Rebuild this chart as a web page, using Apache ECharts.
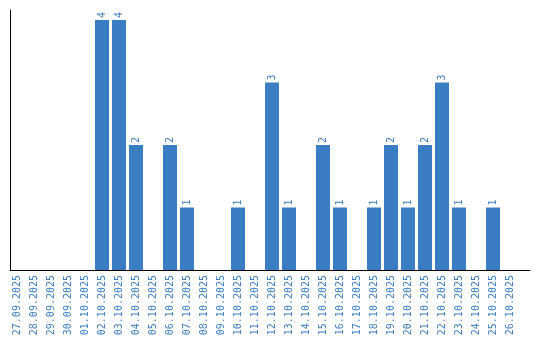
<!DOCTYPE html>
<html>
<head>
<meta charset="utf-8">
<script src="https://cdn.jsdelivr.net/npm/echarts@6/dist/echarts.min.js"></script>
<style>html,body{margin:0;padding:0;background:#fff}#c{width:540px;height:340px}</style>
</head>
<body>
<div id="c"></div>
<script>
const categories = ["27.09.2025","28.09.2025","29.09.2025","30.09.2025","01.10.2025","02.10.2025","03.10.2025","04.10.2025","05.10.2025","06.10.2025","07.10.2025","08.10.2025","09.10.2025","10.10.2025","11.10.2025","12.10.2025","13.10.2025","14.10.2025","15.10.2025","16.10.2025","17.10.2025","18.10.2025","19.10.2025","20.10.2025","21.10.2025","22.10.2025","23.10.2025","24.10.2025","25.10.2025","26.10.2025"];
const counts = [0,0,0,0,0,4,4,2,0,2,1,0,0,1,0,3,1,0,2,1,0,1,2,1,2,3,1,0,1,0];

const blue = '#3a7dc2';
const font = 'DejaVu Sans Mono';
const chart = echarts.init(document.getElementById('c'));
chart.setOption({
  animation: false,
  grid: [
    {left: 8.5, top: 10, width: 510, bottom: 70},
    {left: 10, top: 10, right: 10, bottom: 70}
  ],
  xAxis: [
    {
      type: 'category', data: categories, gridIndex: 0,
      axisLine: {show: false}, axisTick: {show: false},
      axisLabel: {rotate: 90, color: blue, fontFamily: font, fontSize: 10, margin: 5, interval: 0}
    },
    {
      type: 'value', gridIndex: 1, min: 0, max: 1,
      axisLine: {show: true, onZero: false, lineStyle: {color: '#000', width: 1}},
      axisTick: {show: false}, axisLabel: {show: false}, splitLine: {show: false}
    }
  ],
  yAxis: [
    {
      type: 'value', gridIndex: 0, min: 0, max: 4.16,
      axisLine: {show: false}, axisTick: {show: false}, axisLabel: {show: false}, splitLine: {show: false}
    },
    {
      type: 'value', gridIndex: 1, min: 0, max: 1,
      axisLine: {show: true, lineStyle: {color: '#000', width: 1}},
      axisTick: {show: false}, axisLabel: {show: false}, splitLine: {show: false}
    }
  ],
  series: [{
    type: 'bar',
    xAxisIndex: 0, yAxisIndex: 0,
    data: counts.map(v => v === 0 ? null : v),
    barWidth: 14,
    itemStyle: {color: blue},
    label: {
      show: true, position: 'top', rotate: 90, align: 'left', verticalAlign: 'middle',
      distance: 2, color: blue, fontFamily: font, fontSize: 10
    }
  }]
});
</script>
</body>
</html>
